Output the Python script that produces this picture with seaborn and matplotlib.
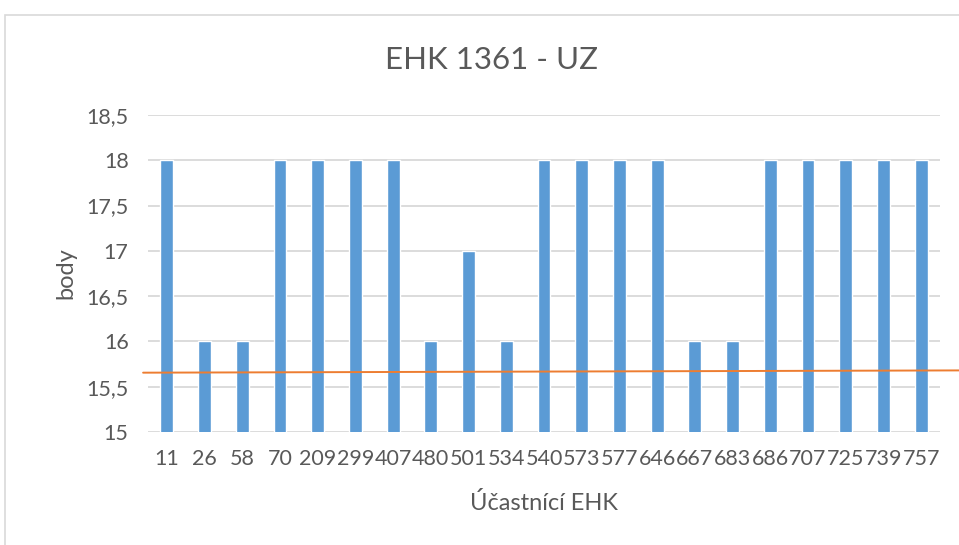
import matplotlib
matplotlib.use("Agg")
import matplotlib.pyplot as plt
import seaborn as sns
import pandas as pd
from matplotlib.patches import Rectangle

participants = ["11", "26", "58", "70", "209", "299", "407", "480", "501", "534", "540",
                "573", "577", "646", "667", "683", "686", "707", "725", "739", "757"]
points = [18, 16, 16, 18, 18, 18, 18, 16, 17, 16, 18, 18, 18, 18, 16, 16, 18, 18, 18, 18, 18]
ref_line = [15.655, 15.68]
y_ticks = [15, 15.5, 16, 16.5, 17, 17.5, 18, 18.5]

df = pd.DataFrame({"participant": participants, "points": points})

sns.set_theme(style="white")
plt.rcParams["font.family"] = ["Lato", "DejaVu Sans"]

W, H = 959, 545
fig = plt.figure(figsize=(W / 100, H / 100), dpi=100)
ax = fig.add_axes([148 / W, 1 - 432 / H, (940 - 148) / W, (432 - 115) / H])

text_col = "#595959"
grid_col = "#d9d9d9"

sns.barplot(data=df, x="participant", y="points", color="#5b9bd5", saturation=1,
            width=0.34, ax=ax, zorder=3)

ax.set_ylim(15, 18.5)
ax.set_yticks(y_ticks)
ax.set_yticklabels([("%g" % v).replace(".", ",") for v in y_ticks])
ax.grid(axis="y", color=grid_col, linewidth=1.3, zorder=0)
ax.set_axisbelow(True)
for s in ax.spines.values():
    s.set_visible(False)
ax.tick_params(axis="both", length=0, colors=text_col, labelsize=15.5)
ax.tick_params(axis="y", pad=14)
ax.tick_params(axis="x", pad=12)

ax.set_xlabel("Účastnící EHK", fontsize=17, color=text_col, labelpad=17)
ax.set_ylabel("body", fontsize=17, color=text_col, labelpad=7)

n = len(participants)
ax.plot([-0.63, n + 0.0], ref_line, color="#ed7d31", linewidth=1.4, clip_on=False, zorder=4)
ax.set_xlim(-0.5, n - 0.5)

fig.text(491 / W, 1 - 60 / H, "EHK 1361 - UZ", ha="center", va="center",
         fontsize=22.5, color=text_col)

fig.patches.append(Rectangle((5 / W, -0.1), 1.2, 1 - 15 / H + 0.1, transform=fig.transFigure,
                             fill=False, edgecolor="#d9d9d9", linewidth=1.2))

fig.savefig("out.png", dpi=100)
